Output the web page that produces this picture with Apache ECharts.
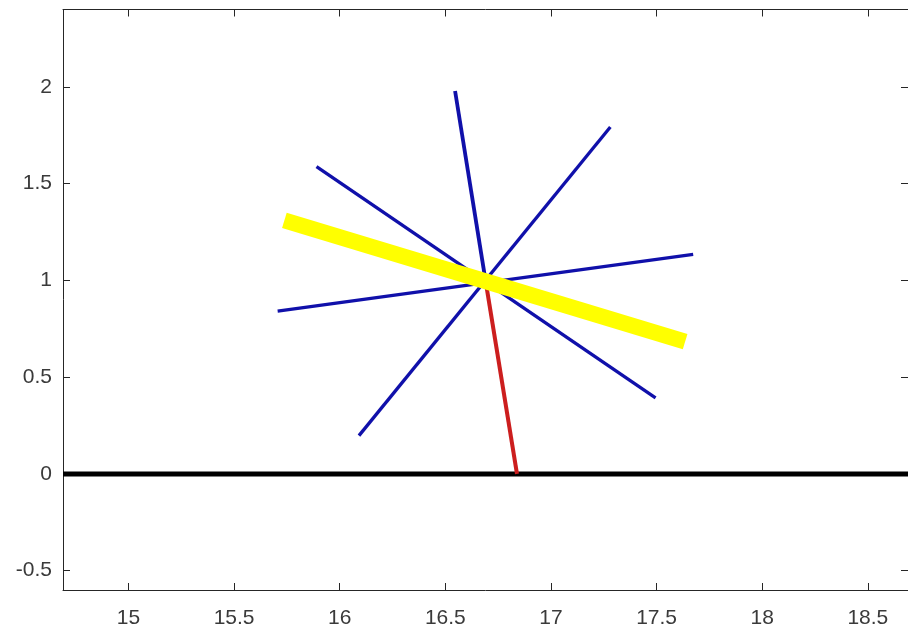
<!DOCTYPE html>
<html>
<head>
<meta charset="utf-8">
<script src="https://cdn.jsdelivr.net/npm/echarts@6/dist/echarts.min.js"></script>
<style>html,body{margin:0;padding:0;background:#fff}#c{width:908px;height:634px}</style>
</head>
<body>
<div id="c"></div>
<script>
// Axis ranges and tick labels
const xRange = [14.69, 18.69];
const yRange = [-0.6, 2.4];
const xTicks = [15, 15.5, 16, 16.5, 17, 17.5, 18, 18.5];
const yTicks = [-0.5, 0, 0.5, 1, 1.5, 2];

// Segments (x values, y values)
const zeroLineX = [14.69, 18.69];
const zeroLineY = [0, 0];
const blueAX = [15.89, 17.495];
const blueAY = [1.588, 0.393];
const blueBX = [15.706, 17.673];
const blueBY = [0.841, 1.134];
const blueCX = [16.546, 16.69];
const blueCY = [1.979, 1.0];
const blueDX = [16.091, 17.281];
const blueDY = [0.198, 1.793];
const redX = [16.69, 16.839];
const redY = [1.0, 0];
const yellowX = [15.738, 17.635];
const yellowY = [1.31, 0.684];

function pts(xs, ys) { return xs.map((x, i) => [x, ys[i]]); }

const axisColor = '#262626';
const labelStyle = { color: '#3a3a3a', fontFamily: 'Liberation Sans, Arial, sans-serif', fontSize: 21 };

function seg(xs, ys, color, width) {
  return {
    type: 'line', data: pts(xs, ys), showSymbol: false, symbol: 'none',
    xAxisIndex: 0, yAxisIndex: 0, animation: false, silent: true,
    lineStyle: { color: color, width: width, cap: 'butt' }
  };
}

const chart = echarts.init(document.getElementById('c'), null, { renderer: 'canvas' });
chart.setOption({
  backgroundColor: '#ffffff',
  animation: false,
  grid: { left: 63, right: -4.6, top: 9.5, bottom: 44, containLabel: false },
  xAxis: [
    {
      type: 'value', position: 'bottom', min: xRange[0], max: xRange[1],
      axisLine: { show: true, onZero: false, lineStyle: { color: axisColor, width: 1 } },
      axisTick: { show: true, inside: true, length: 7, customValues: xTicks, lineStyle: { color: axisColor } },
      axisLabel: Object.assign({ show: true, margin: 18, customValues: xTicks }, labelStyle),
      splitLine: { show: false }
    },
    {
      type: 'value', position: 'top', min: xRange[0], max: xRange[1],
      axisLine: { show: true, onZero: false, lineStyle: { color: axisColor, width: 1 } },
      axisTick: { show: true, inside: true, length: 7, customValues: xTicks, lineStyle: { color: axisColor } },
      axisLabel: { show: false },
      splitLine: { show: false }
    }
  ],
  yAxis: [
    {
      type: 'value', position: 'left', min: yRange[0], max: yRange[1],
      axisLine: { show: true, onZero: false, lineStyle: { color: axisColor, width: 1 } },
      axisTick: { show: true, inside: true, length: 7, customValues: yTicks, lineStyle: { color: axisColor } },
      axisLabel: Object.assign({ show: true, margin: 11, customValues: yTicks, padding: [6, 0, 0, 0] }, labelStyle),
      splitLine: { show: false }
    },
    {
      type: 'value', position: 'right', min: yRange[0], max: yRange[1],
      axisLine: { show: true, onZero: false, lineStyle: { color: axisColor, width: 1 } },
      axisTick: { show: true, inside: true, length: 7, customValues: yTicks, lineStyle: { color: axisColor } },
      axisLabel: { show: false },
      splitLine: { show: false }
    }
  ],
  series: [
    seg(zeroLineX, zeroLineY, '#000000', 5),
    seg(blueAX, blueAY, '#1010aa', 3.3),
    seg(blueBX, blueBY, '#1010aa', 3.3),
    seg(blueDX, blueDY, '#1010aa', 3.3),
    seg(blueCX, blueCY, '#1010aa', 3.8),
    seg(redX, redY, '#cc1e1e', 4),
    seg(yellowX, yellowY, '#ffff00', 16)
  ]
});
</script>
</body>
</html>
